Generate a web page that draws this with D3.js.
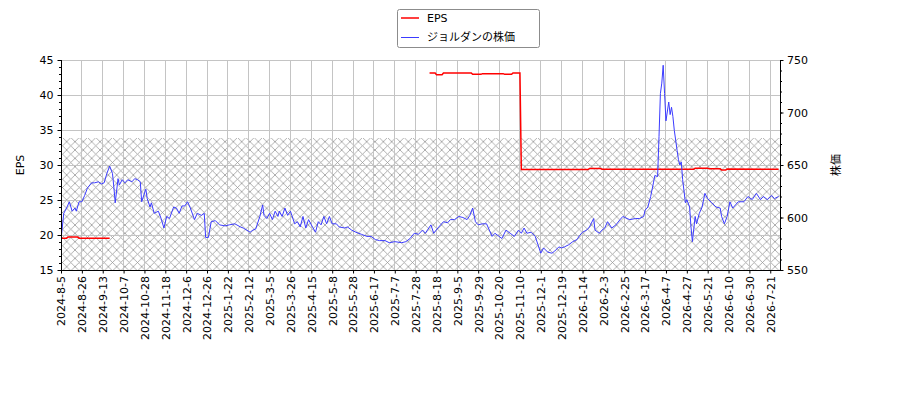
<!DOCTYPE html>
<html lang="ja">
<head>
  <meta charset="UTF-8">
  <title>EPS と ジョルダンの株価</title>
  <style>
    body {
      margin: 0;
      background: #fff;
      font-family: "DejaVu Sans", "Noto Sans CJK JP", sans-serif;
    }
    svg { display: block; }
  </style>
</head>
<body>

<svg width="900" height="400"></svg>

<script src="https://d3js.org/d3.v7.min.js"></script>
<script>
  // x tick labels, one every 15 trading days
  const tickDates = [
    "2024-8-5", "2024-8-26", "2024-9-13", "2024-10-7", "2024-10-28", "2024-11-18",
    "2024-12-6", "2024-12-26", "2025-1-22", "2025-2-12", "2025-3-5", "2025-3-26",
    "2025-4-15", "2025-5-8", "2025-5-28", "2025-6-17", "2025-7-7", "2025-7-28",
    "2025-8-18", "2025-9-5", "2025-9-29", "2025-10-20", "2025-11-10", "2025-12-1",
    "2025-12-19", "2026-1-14", "2026-2-3", "2026-2-25", "2026-3-17", "2026-4-7",
    "2026-4-27", "2026-5-21", "2026-6-10", "2026-6-30", "2026-7-21"
  ];
  const tickStep = 15;
  const lastIndex = 517;

  // stock price (right axis), trading-day index -> price
  const priceIdx = [0,2,4,6,8,10,11,13,15,17,19,22,24,27,29,31,33,35,37,38,39,41,42,44,46,48,51,53,55,57,58,61,62,64,65,67,70,72,74,76,78,81,83,85,87,89,91,93,96,98,101,103,104,106,108,111,114,118,121,125,129,131,136,138,140,143,145,146,148,150,152,154,156,157,159,161,163,165,166,168,170,172,174,176,178,180,183,185,187,189,191,193,195,198,200,204,206,209,212,216,220,223,226,229,233,236,240,245,248,251,254,257,260,262,264,266,268,271,275,278,280,283,286,289,292,294,296,298,300,303,306,308,310,312,315,317,320,323,326,329,331,333,335,338,341,343,345,347,350,353,355,358,360,362,365,368,371,373,375,378,380,383,384,387,389,391,393,396,399,402,404,407,409,413,416,419,420,422,424,426,427,429,430,431,432,433,434,435,437,438,439,440,441,443,444,445,446,447,449,450,452,453,454,456,457,459,461,463,465,468,471,474,475,477,479,481,483,485,487,491,494,497,500,503,505,508,511,513,516];
  const price = [579,604,609,615,606,609,606,615,615,621,628,633,633,634,632,633,642,649,642,629,614,637,631,636,633,636,634,637,636,634,615,627,618,610,614,604,606,599,590,601,599,610,609,604,611,611,615,609,598,604,602,604,581,581,596,597,593,592,593,594,591,590,586,588,589,601,612,602,599,604,598,606,601,606,601,609,602,606,602,594,596,591,601,590,598,593,586,596,593,601,594,601,594,594,591,590,591,588,586,584,582,582,579,578,578,576,577,576,577,580,585,584,588,585,589,593,585,590,596,595,598,598,601,600,598,602,609,596,593,594,594,588,582,585,582,580,588,585,582,588,585,590,585,586,582,574,566,571,567,566,568,572,571,572,574,577,579,583,586,588,591,599,588,585,588,590,596,590,593,598,601,599,598,599,599,601,607,610,620,633,640,639,677,718,728,745,718,692,710,698,705,696,683,664,655,650,653,636,614,617,610,591,577,601,594,604,610,623,618,614,610,609,601,594,601,615,609,612,615,615,620,617,623,617,620,617,621,618,620];

  // EPS (left axis), null = no value
  const epsIdx = [0,4,5,12,13,35,36,265,269,270,274,275,295,296,302,303,318,319,324,325,330,331,379,380,388,389,455,456,465,466,474,475,478,479,516];
  const eps = [19.55,19.55,19.7,19.7,19.55,19.55,null,43.15,43.15,42.9,42.9,43.15,43.15,42.95,42.95,43.05,43.05,42.95,42.95,43.15,43.15,29.35,29.35,29.5,29.5,29.4,29.4,29.55,29.55,29.45,29.45,29.3,29.3,29.42,29.4];

  const epsTicks = [15, 20, 25, 30, 35, 40, 45];
  const priceTicks = [550, 600, 650, 700, 750];
  const hatchTop = 33.85; // EPS units

  const svg = d3.select("svg");
  const pLeft = 61, pRight = 780, pTop = 60, pBottom = 270;
  const font = "'DejaVu Sans', 'Noto Sans CJK JP', sans-serif";

  const x = d3.scaleLinear().domain([0, lastIndex]).range([pLeft, pRight]);
  const yL = d3.scaleLinear().domain([15, 45]).range([pBottom, pTop]);
  const yR = d3.scaleLinear().domain([550, 750]).range([pBottom, pTop]);

  const xTicks = tickDates.map((d, i) => i * tickStep);

  // hatch pattern
  const s = 100 / 12;
  const pat = svg.append("defs").append("pattern")
    .attr("id", "hatch")
    .attr("patternUnits", "userSpaceOnUse")
    .attr("width", s)
    .attr("height", s);
  pat.append("path")
    .attr("d", `M0,0 L${s},${s} M0,${s} L${s},0`)
    .attr("stroke", "#9a9a9a")
    .attr("stroke-width", 0.8)
    .attr("fill", "none");

  svg.append("clipPath").attr("id", "plot")
    .append("rect")
    .attr("x", pLeft).attr("y", pTop)
    .attr("width", pRight - pLeft).attr("height", pBottom - pTop);

  svg.append("rect")
    .attr("x", pLeft)
    .attr("y", yL(hatchTop))
    .attr("width", pRight - pLeft)
    .attr("height", yL(15) - yL(hatchTop))
    .attr("fill", "url(#hatch)");

  // grid
  const grid = svg.append("g")
    .attr("stroke", "#c4c4c4")
    .attr("stroke-width", 1)
    .attr("shape-rendering", "crispEdges");
  xTicks.forEach(t => {
    grid.append("line")
      .attr("x1", x(t)).attr("x2", x(t))
      .attr("y1", pTop).attr("y2", pBottom);
  });
  epsTicks.forEach(t => {
    grid.append("line")
      .attr("x1", pLeft).attr("x2", pRight)
      .attr("y1", yL(t)).attr("y2", yL(t));
  });

  // lines
  const priceData = priceIdx.map((d, i) => ({ i: d, v: price[i] }));
  const epsData = epsIdx.map((d, i) => ({ i: d, v: eps[i] }));

  svg.append("path")
    .datum(epsData)
    .attr("clip-path", "url(#plot)")
    .attr("fill", "none")
    .attr("stroke", "#ff0000")
    .attr("stroke-width", 1.5)
    .attr("d", d3.line().defined(d => d.v !== null).x(d => x(d.i)).y(d => yL(d.v)));

  svg.append("path")
    .datum(priceData)
    .attr("clip-path", "url(#plot)")
    .attr("fill", "none")
    .attr("stroke", "#3b3bff")
    .attr("stroke-width", 1)
    .attr("d", d3.line().x(d => x(d.i)).y(d => yR(d.v)));

  // axes
  const styleAxis = g => {
    g.selectAll("text").attr("font-size", 11).attr("font-family", font).attr("fill", "#000");
    g.selectAll("line").attr("stroke", "#000");
    g.select(".domain").remove();
  };

  svg.append("g")
    .attr("transform", `translate(${pLeft},0)`)
    .call(d3.axisLeft(yL).tickValues(d3.range(15, 46, 1)).tickSize(2).tickFormat(""))
    .call(styleAxis);
  svg.append("g")
    .attr("transform", `translate(${pLeft},0)`)
    .call(d3.axisLeft(yL).tickValues(epsTicks).tickSize(3.5).tickPadding(4))
    .call(styleAxis);

  svg.append("g")
    .attr("transform", `translate(${pRight},0)`)
    .call(d3.axisRight(yR).tickValues(d3.range(550, 751, 10)).tickSize(2).tickFormat(""))
    .call(styleAxis);
  svg.append("g")
    .attr("transform", `translate(${pRight},0)`)
    .call(d3.axisRight(yR).tickValues(priceTicks).tickSize(3.5).tickPadding(3.5))
    .call(styleAxis);

  const xAxis = svg.append("g")
    .attr("transform", `translate(0,${pBottom})`)
    .call(d3.axisBottom(x).tickValues(xTicks).tickSize(3.5).tickFormat((d, i) => tickDates[i]))
    .call(styleAxis);
  xAxis.selectAll("text")
    .attr("transform", "rotate(-90)")
    .attr("x", -6)
    .attr("y", 0)
    .attr("dy", "0.35em")
    .attr("text-anchor", "end");

  // spines
  const spine = svg.append("g").attr("stroke", "#000").attr("stroke-width", 1).attr("shape-rendering", "crispEdges");
  spine.append("line").attr("x1", pLeft).attr("x2", pLeft).attr("y1", pTop).attr("y2", pBottom);
  spine.append("line").attr("x1", pRight).attr("x2", pRight).attr("y1", pTop).attr("y2", pBottom);
  spine.append("line").attr("x1", pLeft).attr("x2", pRight).attr("y1", pBottom).attr("y2", pBottom);

  // axis titles
  svg.append("text")
    .attr("transform", `translate(24,${(pTop + pBottom) / 2}) rotate(-90)`)
    .attr("text-anchor", "middle")
    .attr("font-size", 11)
    .attr("font-family", font)
    .text("EPS");
  svg.append("text")
    .attr("transform", `translate(840,${(pTop + pBottom) / 2}) rotate(-90)`)
    .attr("text-anchor", "middle")
    .attr("font-size", 11)
    .attr("font-family", font)
    .text("株価");

  // legend
  const legend = svg.append("g");
  legend.append("rect")
    .attr("x", 397.5).attr("y", 9.5)
    .attr("width", 142).attr("height", 38)
    .attr("rx", 2)
    .attr("fill", "#fff")
    .attr("stroke", "#8c8c8c");
  const items = [
    { label: "EPS", color: "#ff0000", width: 1.5 },
    { label: "ジョルダンの株価", color: "#3b3bff", width: 1 }
  ];
  items.forEach((d, i) => {
    const cy = 18 + i * 19.5;
    legend.append("line")
      .attr("x1", 401).attr("x2", 419)
      .attr("y1", cy).attr("y2", cy)
      .attr("stroke", d.color)
      .attr("stroke-width", d.width);
    legend.append("text")
      .attr("x", 427).attr("y", cy)
      .attr("dy", "0.35em")
      .attr("font-size", 11)
      .attr("font-family", font)
      .text(d.label);
  });
</script>

</body>
</html>
